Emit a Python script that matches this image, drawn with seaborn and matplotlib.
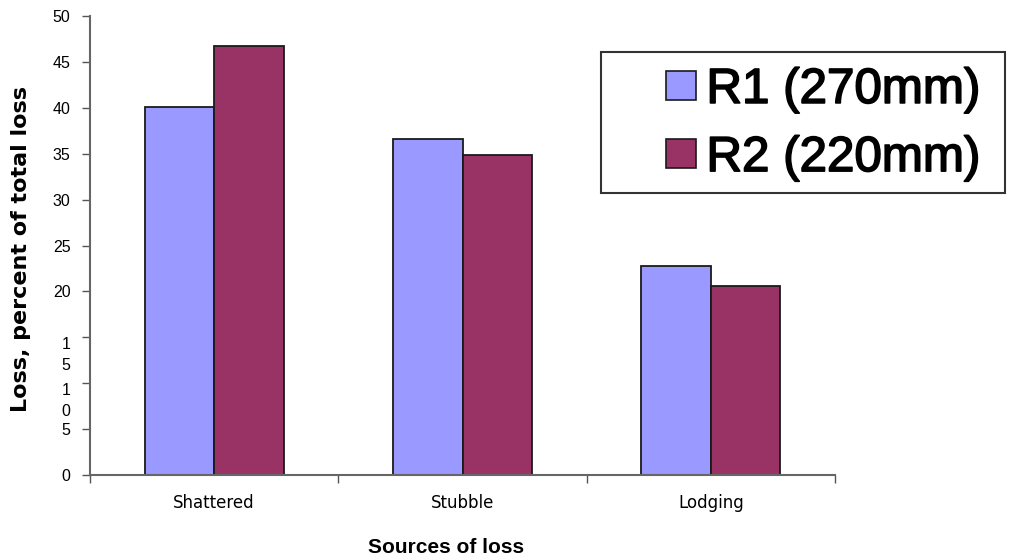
import matplotlib
matplotlib.use("Agg")
import matplotlib.pyplot as plt
import matplotlib.transforms as mtransforms
import matplotlib.patheffects as pe
from matplotlib.patches import Patch, Rectangle
import seaborn as sns
import pandas as pd

# Loss data by source, for the two cutting heights
sources = ["Shattered", "Stubble", "Lodging"]
series_names = ["R1 (270mm)", "R2 (220mm)"]
r1_values = [40.1, 36.6, 22.8]
r2_values = [46.7, 34.9, 20.6]
y_ticks = [0, 5, 10, 15, 20, 25, 30, 35, 40, 45, 50]
y_tick_labels = ["0", "5", "1\n0", "1\n5", "20", "25", "30", "35", "40", "45", "50"]
colors = ["#9999FF", "#993366"]

df = pd.DataFrame({
    "source": sources * 2,
    "series": [series_names[0]] * 3 + [series_names[1]] * 3,
    "loss": r1_values + r2_values,
})

sns.set_style("white")
plt.rcParams["font.family"] = ["Liberation Sans", "DejaVu Sans"]
plt.rcParams["text.color"] = "black"
plt.rcParams["xtick.color"] = "black"
plt.rcParams["ytick.color"] = "black"
plt.rcParams["axes.labelcolor"] = "black"

fig = plt.figure(figsize=(10.21, 5.57), dpi=100)
ax = fig.add_axes([90 / 1021, 1 - 475 / 557, 745 / 1021, 459 / 557])

sns.barplot(data=df, x="source", y="loss", hue="series", order=sources,
            hue_order=series_names, palette=colors, width=0.56,
            edgecolor="#1a1a1a", linewidth=1.3, saturation=1, ax=ax,
            legend=False)

ax.set_xlim(-0.5, 2.5)
ax.set_ylim(0, 50)
ax.set_yticks(y_ticks)
ax.set_yticklabels(y_tick_labels)
ax.set_xticks(range(len(sources)))
ax.set_xticklabels(sources)
ax.set_xticks([-0.5, 0.5, 1.5, 2.5], minor=True)

for lbl in ax.get_yticklabels():
    lbl.set_fontsize(11.5)
for lbl in ax.get_xticklabels():
    lbl.set_family("DejaVu Sans")
    lbl.set_fontsize(12)

# Stacked two-line labels start at the tick and run downward
shift = mtransforms.ScaledTranslation(0, 10 / 100, fig.dpi_scale_trans)
for lbl in ax.get_yticklabels():
    if "\n" in lbl.get_text():
        lbl.set_verticalalignment("top")
        lbl.set_linespacing(1.5)
        lbl.set_transform(lbl.get_transform() + shift)

ax.tick_params(axis="y", which="major", direction="out", length=6,
               width=1, color="#555555", pad=8, left=True)
ax.tick_params(axis="x", which="major", length=0, pad=14)
ax.tick_params(axis="x", which="minor", direction="out", length=6,
               width=1, color="#555555", bottom=True)

for side in ["top", "right"]:
    ax.spines[side].set_visible(False)
for side in ["left", "bottom"]:
    ax.spines[side].set_color("#666666")
    ax.spines[side].set_linewidth(1.5)

ax.set_xlabel("Sources of loss", fontsize=15, fontweight="bold")
ax.xaxis.set_label_coords((446 - 90) / 745, (475 - 538) / 459)
ax.xaxis.label.set_verticalalignment("top")
ax.set_ylabel("Loss, percent of total loss", fontsize=16,
              fontweight="bold", family="DejaVu Sans")
ax.yaxis.set_label_coords((31 - 90) / 745, (475 - 249) / 459)

# Legend box with the entries placed inside it
fig.add_artist(Rectangle((601 / 1021, 1 - 193 / 557), 404 / 1021, 141 / 557,
                         transform=fig.transFigure, facecolor="white",
                         edgecolor="#333333", linewidth=1.5, zorder=3))
handles = [Patch(facecolor=c, edgecolor="#1a1a1a", linewidth=1.2)
           for c in colors]
leg = fig.legend(handles, series_names, loc="center left",
                 bbox_to_anchor=(666 / 1021, 1 - 124.5 / 557),
                 prop={"size": 35.5}, frameon=False,
                 handlelength=0.6, handleheight=0.53, handletextpad=0.22,
                 labelspacing=0.47, borderpad=0, borderaxespad=0)
leg.set_zorder(4)
for txt in leg.get_texts():
    txt.set_path_effects([pe.withStroke(linewidth=1.2, foreground="black")])

fig.savefig("out.png", dpi=100)
